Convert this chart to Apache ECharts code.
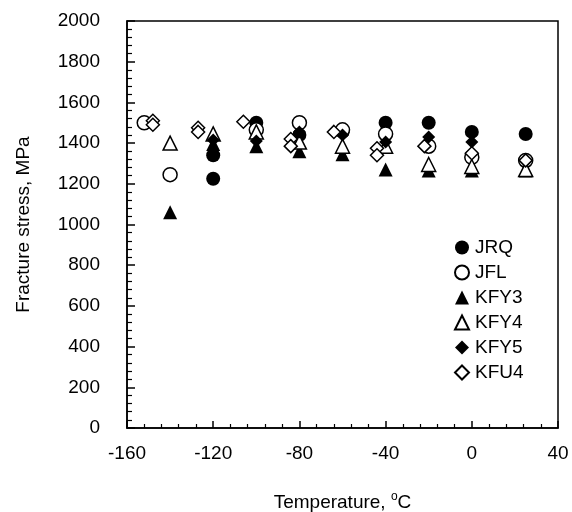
<!DOCTYPE html>
<html>
<head>
<meta charset="UTF-8">
<title>Fracture stress</title>
<script src="https://cdn.jsdelivr.net/npm/echarts@6/dist/echarts.min.js"></script>
</head>
<body style="margin:0">
<div id="main" style="width:572px;height:512px;"></div>
<script type="text/javascript">
// data: [temperature °C, stress MPa]
var jrq  = [[-120, 1225], [-120, 1340], [-100, 1500], [-80, 1440], [-60, 1455], [-40, 1500], [-20, 1500], [0, 1455], [25, 1445]];
var jfl  = [[-152, 1500], [-140, 1245], [-100, 1465], [-80, 1500], [-60, 1465], [-40, 1445], [-20, 1385], [0, 1330], [25, 1315]];
var kfy3 = [[-140, 1060], [-120, 1395], [-100, 1385], [-80, 1360], [-60, 1345], [-40, 1270], [-20, 1265], [0, 1265], [25, 1265]];
var kfy4 = [[-140, 1400], [-120, 1445], [-100, 1455], [-80, 1405], [-60, 1385], [-40, 1385], [-20, 1295], [0, 1285], [25, 1270]];
var kfy5 = [[-120, 1415], [-100, 1410], [-80, 1455], [-60, 1440], [-40, 1405], [-20, 1430], [0, 1405]];
var kfu4 = [[-148, 1510], [-148, 1490], [-127, 1475], [-127, 1455], [-106, 1505], [-84, 1420], [-84, 1385],
            [-64, 1455], [-44, 1375], [-44, 1340], [-22, 1385], [0, 1350], [25, 1315]];

var names = ['JRQ', 'JFL', 'KFY3', 'KFY4', 'KFY5', 'KFU4'];
var sets = [jrq, jfl, kfy3, kfy4, kfy5, kfu4];
var shapes = ['circle', 'circle', 'triangle', 'triangle', 'diamond', 'diamond'];
var filled = [true, false, true, false, true, false];
var sizes = [14, 14, 14, 14, 13, 13];

var myChart = echarts.init(document.getElementById('main'));
var font = 'Liberation Sans, Arial, sans-serif';

var series = [];
for (var i = 0; i < names.length; i++) {
    series.push({
        name: names[i],
        type: 'scatter',
        data: sets[i],
        symbol: shapes[i],
        symbolSize: sizes[i],
        z: 2 + i,
        itemStyle: {
            color: filled[i] ? '#000' : '#fff',
            borderColor: '#000',
            borderWidth: filled[i] ? 0 : 1.5,
            opacity: 1
        }
    });
}

var option = {
    animation: false,
    backgroundColor: '#fff',
    grid: {
        left: 127, right: 14, top: 21, bottom: 84,
        outerBoundsMode: 'none',
        containLabel: false,
        show: true, borderColor: '#000', borderWidth: 1.5
    },
    legend: {
        orient: 'vertical',
        left: 449, top: 233,
        itemGap: 6,
        itemWidth: 14, itemHeight: 14,
        textStyle: { fontFamily: font, fontSize: 19, color: '#000', padding: [0, 0, 0, 1] },
        data: names
    },
    xAxis: {
        type: 'value',
        min: -160, max: 40, interval: 40,
        name: 'Temperature, {sup|o}C',
        nameLocation: 'middle',
        nameGap: 63,
        nameTextStyle: {
            fontFamily: font, fontSize: 19, color: '#000',
            rich: { sup: { fontFamily: font, fontSize: 12, color: '#000', verticalAlign: 'top', padding: [0, 0, 11, 0] } }
        },
        axisLine: { onZero: false, lineStyle: { color: '#000', width: 1.5 } },
        axisTick: { inside: true, length: 7, lineStyle: { color: '#000', width: 1.5 } },
        minorTick: { show: true, splitNumber: 5, length: 4, lineStyle: { color: '#000', width: 1.2 } },
        axisLabel: { margin: 16, fontFamily: font, fontSize: 19, color: '#000' },
        splitLine: { show: false }
    },
    yAxis: {
        type: 'value',
        min: 0, max: 2000, interval: 200,
        name: 'Fracture stress, MPa',
        nameLocation: 'middle',
        nameGap: 94,
        nameTextStyle: { fontFamily: font, fontSize: 19, color: '#000' },
        axisLine: { onZero: false, lineStyle: { color: '#000', width: 1.5 } },
        axisTick: { inside: true, length: 8, lineStyle: { color: '#000', width: 1.5 } },
        minorTick: { show: true, splitNumber: 5, length: 5, lineStyle: { color: '#000', width: 1.2 } },
        axisLabel: {
            margin: 27, fontFamily: font, fontSize: 19, color: '#000',
            formatter: function (v) { return String(v); }
        },
        splitLine: { show: false }
    },
    series: series
};

myChart.setOption(option);
</script>
</body>
</html>
